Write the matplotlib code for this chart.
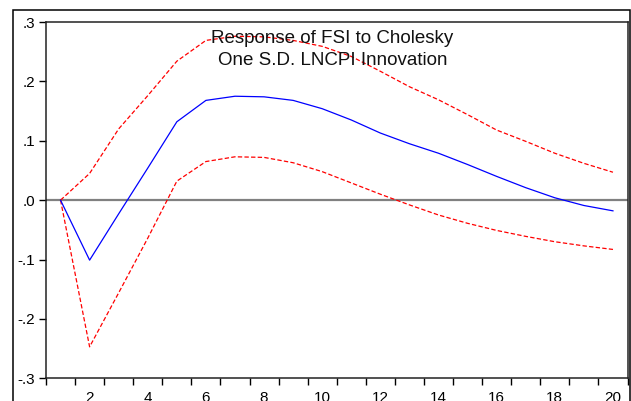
import matplotlib
matplotlib.use('Agg')
import matplotlib.pyplot as plt
from matplotlib.patches import Rectangle

# impulse response of FSI to one S.D. LNCPI shock, with +/- 2 s.e. bands
steps = list(range(1, 21))
response = [0.000, -0.101, -0.023, 0.054, 0.132, 0.168, 0.175, 0.174, 0.168, 0.154,
            0.135, 0.113, 0.095, 0.079, 0.060, 0.040, 0.021, 0.004, -0.009, -0.018]
upper = [0.000, 0.045, 0.120, 0.176, 0.234, 0.269, 0.276, 0.275, 0.269, 0.259,
         0.242, 0.217, 0.191, 0.169, 0.144, 0.118, 0.099, 0.079, 0.062, 0.047]
lower = [0.000, -0.247, -0.156, -0.064, 0.032, 0.065, 0.073, 0.072, 0.063, 0.048,
         0.029, 0.010, -0.008, -0.025, -0.039, -0.051, -0.061, -0.070, -0.077, -0.083]
y_ticks = [-0.3, -0.2, -0.1, 0.0, 0.1, 0.2, 0.3]
y_labels = ['-.3', '-.2', '-.1', '.0', '.1', '.2', '.3']
x_ticks = [2, 4, 6, 8, 10, 12, 14, 16, 18, 20]

plt.rcParams['font.family'] = ['Liberation Sans', 'DejaVu Sans']

fig = plt.figure(figsize=(6.31, 4.01), dpi=100)
ax = fig.add_axes([46 / 631, 1 - 378.3 / 401, 581.5 / 631, 356.3 / 401])

# outer frame like the EViews graph border
fig.patches.append(Rectangle((13 / 631, -0.1), 617 / 631, 1.1 - 10 / 401,
                             transform=fig.transFigure, fill=False,
                             edgecolor='black', linewidth=1.1))

ax.axhline(0, color='#808080', linewidth=1.6, zorder=1)
ax.plot(steps, upper, color='red', linewidth=0.9, dashes=(3.5, 1.8), zorder=2)
ax.plot(steps, lower, color='red', linewidth=0.9, dashes=(3.5, 1.8), zorder=2)
ax.plot(steps, response, color='blue', linewidth=0.9, zorder=3)

ax.set_xlim(0.5, 20.5)
ax.set_ylim(-0.3, 0.3)
ax.set_yticks(y_ticks)
ax.set_yticklabels(y_labels)
ax.set_xticks(x_ticks)
ax.set_xticks([i + 0.5 for i in range(0, 21)], minor=True)
ax.tick_params(axis='x', which='major', length=0, pad=9, labelsize=11)
ax.tick_params(axis='x', which='minor', length=5, width=1, direction='out')
ax.tick_params(axis='y', which='major', length=5, width=1, direction='out', pad=3, labelsize=11)

for s in ax.spines.values():
    s.set_linewidth(1.1)
    s.set_color('#222222')

ax.text(0.4927, 0.978, 'Response of FSI to Cholesky\nOne S.D. LNCPI Innovation',
        transform=ax.transAxes, ha='center', va='top', fontsize=13.5,
        linespacing=1.38, color='#111111')

fig.savefig('out.png', dpi=100)
